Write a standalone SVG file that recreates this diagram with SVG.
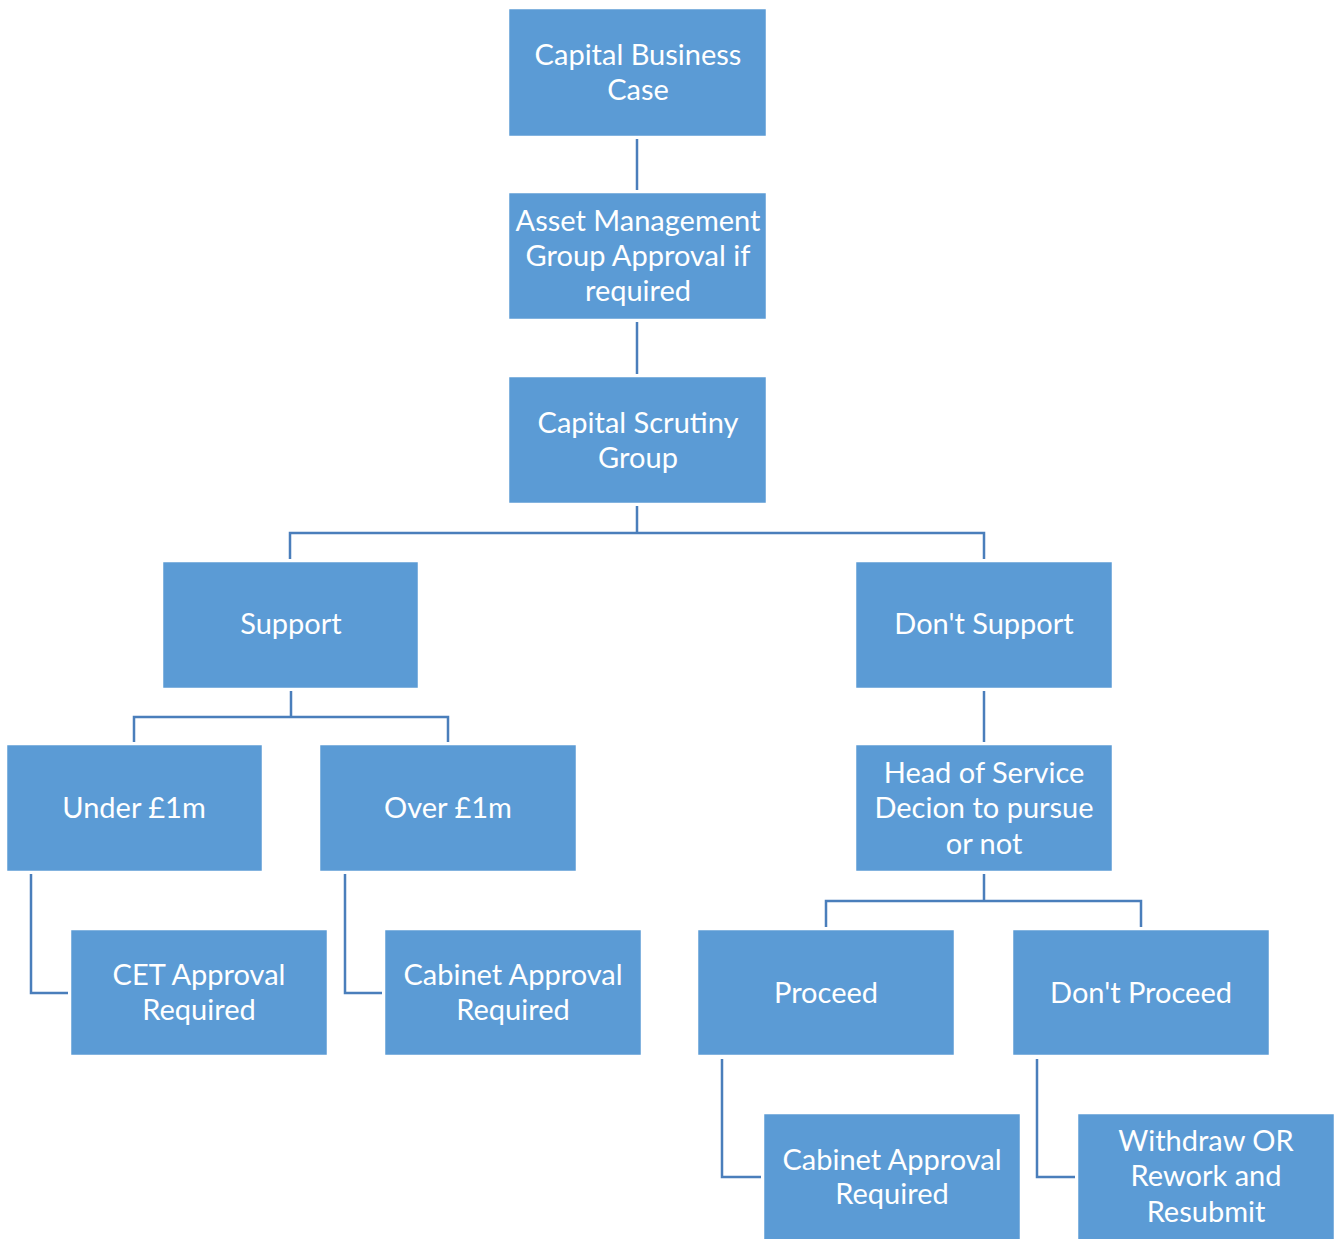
<svg xmlns="http://www.w3.org/2000/svg" width="1336" height="1239" viewBox="0 0 1336 1239">
<style>
.box{fill:#5B9BD5;stroke:#ffffff;stroke-width:0.5}
.t{font-family:Lato,"Open Sans","Liberation Sans",sans-serif;font-size:29px;fill:#ffffff;text-anchor:middle}
.c{fill:none;stroke:#4A7EBB;stroke-width:2.5}
</style>
<rect width="1336" height="1239" fill="#ffffff"/>
<g id="connectors">
<path class="c" d="M637,139V190"/>
<path class="c" d="M637,322V374"/>
<path class="c" d="M637,506V533M290,559V533H984V559"/>
<path class="c" d="M291,691V717M134,742V717H448V742"/>
<path class="c" d="M984,691V742"/>
<path class="c" d="M984,874V901M826,927V901H1141V927"/>
<path class="c" d="M31,874V993H68"/>
<path class="c" d="M345,874V993H382"/>
<path class="c" d="M722,1059V1177H761"/>
<path class="c" d="M1037,1059V1177H1075"/>
</g>
<g id="n1"><rect class="box" x="509" y="9" width="257" height="127"/><text class="t" x="638" y="65">Capital Business</text><text class="t" x="638" y="100">Case</text></g>
<g id="n2"><rect class="box" x="509" y="193" width="257" height="126"/><text class="t" x="638" y="231">Asset Management</text><text class="t" x="638" y="266">Group Approval if</text><text class="t" x="638" y="301">required</text></g>
<g id="n3"><rect class="box" x="509" y="377" width="257" height="126"/><text class="t" x="638" y="433">Capital Scrutiny</text><text class="t" x="638" y="468">Group</text></g>
<g id="n4"><rect class="box" x="163" y="562" width="255" height="126"/><text class="t" x="291" y="634">Support</text></g>
<g id="n5"><rect class="box" x="856" y="562" width="256" height="126"/><text class="t" x="984" y="634">Don't Support</text></g>
<g id="n6"><rect class="box" x="7" y="745" width="255" height="126"/><text class="t" x="134" y="818">Under £1m</text></g>
<g id="n7"><rect class="box" x="320" y="745" width="256" height="126"/><text class="t" x="448" y="818">Over £1m</text></g>
<g id="n8"><rect class="box" x="856" y="745" width="256" height="126"/><text class="t" x="984" y="783">Head of Service</text><text class="t" x="984" y="818">Decion to pursue</text><text class="t" x="984" y="854">or not</text></g>
<g id="n9"><rect class="box" x="71" y="930" width="256" height="125"/><text class="t" x="199" y="985">CET Approval</text><text class="t" x="199" y="1020">Required</text></g>
<g id="n10"><rect class="box" x="385" y="930" width="256" height="125"/><text class="t" x="513" y="985">Cabinet Approval</text><text class="t" x="513" y="1020">Required</text></g>
<g id="n11"><rect class="box" x="698" y="930" width="256" height="125"/><text class="t" x="826" y="1003">Proceed</text></g>
<g id="n12"><rect class="box" x="1013" y="930" width="256" height="125"/><text class="t" x="1141" y="1003">Don't Proceed</text></g>
<g id="n13"><rect class="box" x="764" y="1114" width="256" height="130"/><text class="t" x="892" y="1170">Cabinet Approval</text><text class="t" x="892" y="1204">Required</text></g>
<g id="n14"><rect class="box" x="1078" y="1114" width="256" height="130"/><text class="t" x="1206" y="1151">Withdraw OR</text><text class="t" x="1206" y="1186">Rework and</text><text class="t" x="1206" y="1222">Resubmit</text></g>
</svg>
